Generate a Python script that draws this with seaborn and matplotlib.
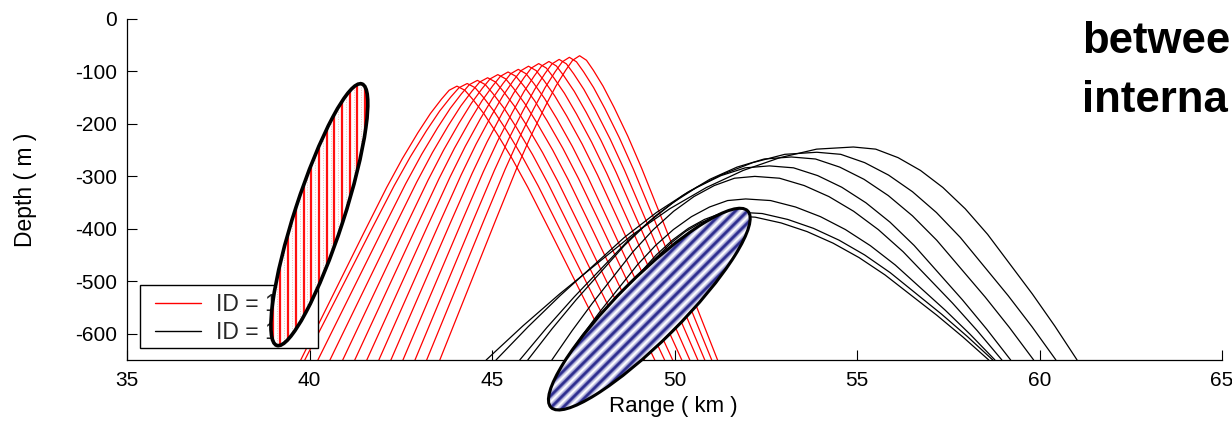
import numpy as np
import pandas as pd
import matplotlib
matplotlib.use("Agg")
import matplotlib.pyplot as plt
import seaborn as sns
from matplotlib.patches import Ellipse, Rectangle
from matplotlib.lines import Line2D
from matplotlib import transforms

# ---------------- data ----------------
# red ray family: range where the ray leaves the bottom of the plot, apex, range where it returns
red_start = [39.76, 39.87, 40.23, 40.56, 40.91, 41.24, 41.57, 41.90, 42.23, 42.56, 42.89, 43.21, 43.57]
red_apex_range = [44.04, 44.32, 44.60, 44.88, 45.16, 45.44, 45.72, 46.00, 46.28, 46.56, 46.84, 47.12, 47.40]
red_apex_depth = [-128, -123, -117, -112, -106, -101, -96, -90, -85, -81, -77, -73, -70]
red_end = [48.36, 48.64, 48.91, 49.18, 49.46, 49.73, 49.95, 50.20, 50.42, 50.64, 50.83, 51.02, 51.18]

# black ray family
black_start = [44.84, 45.11, 45.76, 45.98, 46.64, 47.00, 47.30, 47.50]
black_apex_range = [54.90, 53.90, 53.20, 52.60, 52.20, 51.95, 51.70, 51.50]
black_apex_depth = [-244, -254, -263, -280, -300, -343, -368, -375]
black_end = [61.03, 60.45, 59.84, 59.21, 58.97, 58.78, 58.72, 58.61]

# traced half-arc shape of each family (fraction of half-width, fraction of rise)
red_profile_u = [0, 0.2, 0.4, 0.55, 0.65, 0.75, 0.83, 0.9, 0.95, 1.0]
red_profile_v = [0, 0.23, 0.46, 0.63, 0.735, 0.83, 0.9, 0.952, 0.985, 1.0]
black_profile_u = [0, 0.1, 0.2, 0.3, 0.4, 0.5, 0.6, 0.7, 0.8, 0.9, 1.0]
black_profile_v = [0, 0.16, 0.31, 0.45, 0.59, 0.71, 0.81, 0.89, 0.95, 0.99, 1.0]

legend_labels = ["ID = 13", "ID = 14"]
x_ticks = [35, 40, 45, 50, 55, 60, 65]
y_ticks = [0, -100, -200, -300, -400, -500, -600]
BOTTOM = -650

# ---------------- build ray paths ----------------
rows = []
def add_family(name, starts, ax_r, ax_d, ends, pu, pv):
    pu = np.asarray(pu, float)
    pv = np.asarray(pv, float)
    for i, (s, a, d, e) in enumerate(zip(starts, ax_r, ax_d, ends)):
        xu = s + pu * (a - s)
        du = BOTTOM + pv * (d - BOTTOM)
        ur = pu[::-1][1:]
        vr = pv[::-1][1:]
        xd = e - ur * (e - a)
        dd = BOTTOM + vr * (d - BOTTOM)
        xs = np.concatenate([xu, xd])
        ds = np.concatenate([du, dd])
        for k, (x, y) in enumerate(zip(xs, ds)):
            rows.append({"range": x, "depth": y, "ray": f"{name}{i}", "family": name, "order": k})

add_family("red", red_start, red_apex_range, red_apex_depth, red_end, red_profile_u, red_profile_v)
add_family("black", black_start, black_apex_range, black_apex_depth, black_end, black_profile_u, black_profile_v)
df = pd.DataFrame(rows)

# ---------------- figure ----------------
sns.set_theme(style="ticks")
plt.rcParams["font.family"] = ["Liberation Sans", "DejaVu Sans"]

fig = plt.figure(figsize=(12.32, 4.23), dpi=100)
ax = fig.add_axes([127 / 1232, 63 / 423, 1095 / 1232, 341 / 423])

sns.lineplot(data=df, x="range", y="depth", units="ray", estimator=None, sort=False,
             hue="family", palette={"red": "#ff0000", "black": "#000000"},
             legend=False, lw=0.9, ax=ax)

ax.set_xlim(35, 65)
ax.set_ylim(BOTTOM, 0)
ax.set_xticks(x_ticks)
ax.set_yticks(y_ticks)
ax.set_xticklabels([str(t) for t in x_ticks])
ax.set_yticklabels([str(t) for t in y_ticks])
ax.tick_params(direction="in", length=7, width=0.8, labelsize=15, colors="black")
ax.tick_params(axis="x", pad=8)
ax.tick_params(axis="y", pad=7)
for side in ("top", "right"):
    ax.spines[side].set_visible(False)
for side in ("left", "bottom"):
    ax.spines[side].set_linewidth(0.9)
    ax.spines[side].set_color("black")
ax.set_facecolor("white")

ax.set_xlabel("Range ( km )", fontsize=16, labelpad=6.5, color="black")
ax.set_ylabel("Depth ( m )", fontsize=16.5, color="black")
ax.yaxis.set_label_coords(-0.082, 0.5)
ax.xaxis.set_label_coords(0.499, -0.105)
ax.xaxis.label.set_va("top")

# legend: frame drawn as its own box, entries placed inside it
frame = Rectangle((13 / 1095, 12 / 341), 178 / 1095, 63 / 341, transform=ax.transAxes,
                  facecolor="white", edgecolor="black", lw=1.0, zorder=5)
ax.add_patch(frame)
handles = [Line2D([], [], color="red", lw=1), Line2D([], [], color="black", lw=1)]
leg = ax.legend(handles, legend_labels, loc="lower left", bbox_to_anchor=(28 / 1095, 16 / 341),
                frameon=False, fontsize=16.5, handlelength=2.0, handletextpad=0.65,
                labelspacing=0.2, borderpad=0, borderaxespad=0)
leg.set_zorder(6)

# ---------------- highlight ellipses ----------------
def ellipse_at(cx, cy, w_in, h_in, angle, **kw):
    tr = fig.dpi_scale_trans + transforms.ScaledTranslation(cx, cy, ax.transData)
    return Ellipse((0, 0), w_in, h_in, angle=angle, transform=tr, **kw), tr

def clipped_line(xs, ys, clip, **kw):
    ln = Line2D(xs, ys, **kw)
    ln.set_clip_path(clip)
    ax.add_line(ln)
    ln.set_clip_path(clip)
    ln.set_clip_box(None)
    return ln

# red-striped ellipse
e_red, tr_red = ellipse_at(40.27, -373, 2.75, 0.49, 72, facecolor="white", edgecolor="none",
                           zorder=10, clip_on=False)
ax.add_patch(e_red)
for xo in np.arange(-0.62, 0.63, 0.077):
    clipped_line([xo, xo], [-1.5, 1.5], e_red, color="#ff1010", lw=1.6, transform=tr_red, zorder=11)
    clipped_line([xo + 0.0385, xo + 0.0385], [-1.5, 1.5], e_red, color="#f6b8b8", lw=0.7,
                 ls=(0, (1, 1.5)), transform=tr_red, zorder=11)
o_red, _ = ellipse_at(40.27, -373, 2.75, 0.49, 72, facecolor="none", edgecolor="black",
                      lw=2.6, zorder=12, clip_on=False)
ax.add_patch(o_red)

# blue-striped ellipse
e_blue, tr_blue = ellipse_at(49.31, -553, 2.78, 0.64, 45, facecolor="white", edgecolor="none",
                             zorder=10, clip_on=False)
ax.add_patch(e_blue)
rot_tr = transforms.Affine2D().rotate_deg(45) + tr_blue
for yo in np.arange(-0.34, 0.35, 0.085):
    for lw, col in ((5.0, "#d4d4ec"), (3.4, "#9696cc"), (1.8, "#2e2e8f")):
        clipped_line([-1.6, 1.6], [yo, yo], e_blue, color=col, lw=lw, transform=rot_tr,
                     zorder=11, solid_capstyle="butt")
o_blue, _ = ellipse_at(49.31, -553, 2.78, 0.64, 45, facecolor="none", edgecolor="black",
                       lw=2.2, zorder=12, clip_on=False)
ax.add_patch(o_blue)

# slide title fragment at the right
fig.text(1082 / 1232, 1 - 53 / 423, "betwee", fontsize=31.5, fontweight="bold",
         va="baseline", ha="left", color="black")
fig.text(1082 / 1232, 1 - 112 / 423, "interna", fontsize=31.5, fontweight="bold",
         va="baseline", ha="left", color="black")

fig.savefig("out.png", dpi=100, facecolor="white")
